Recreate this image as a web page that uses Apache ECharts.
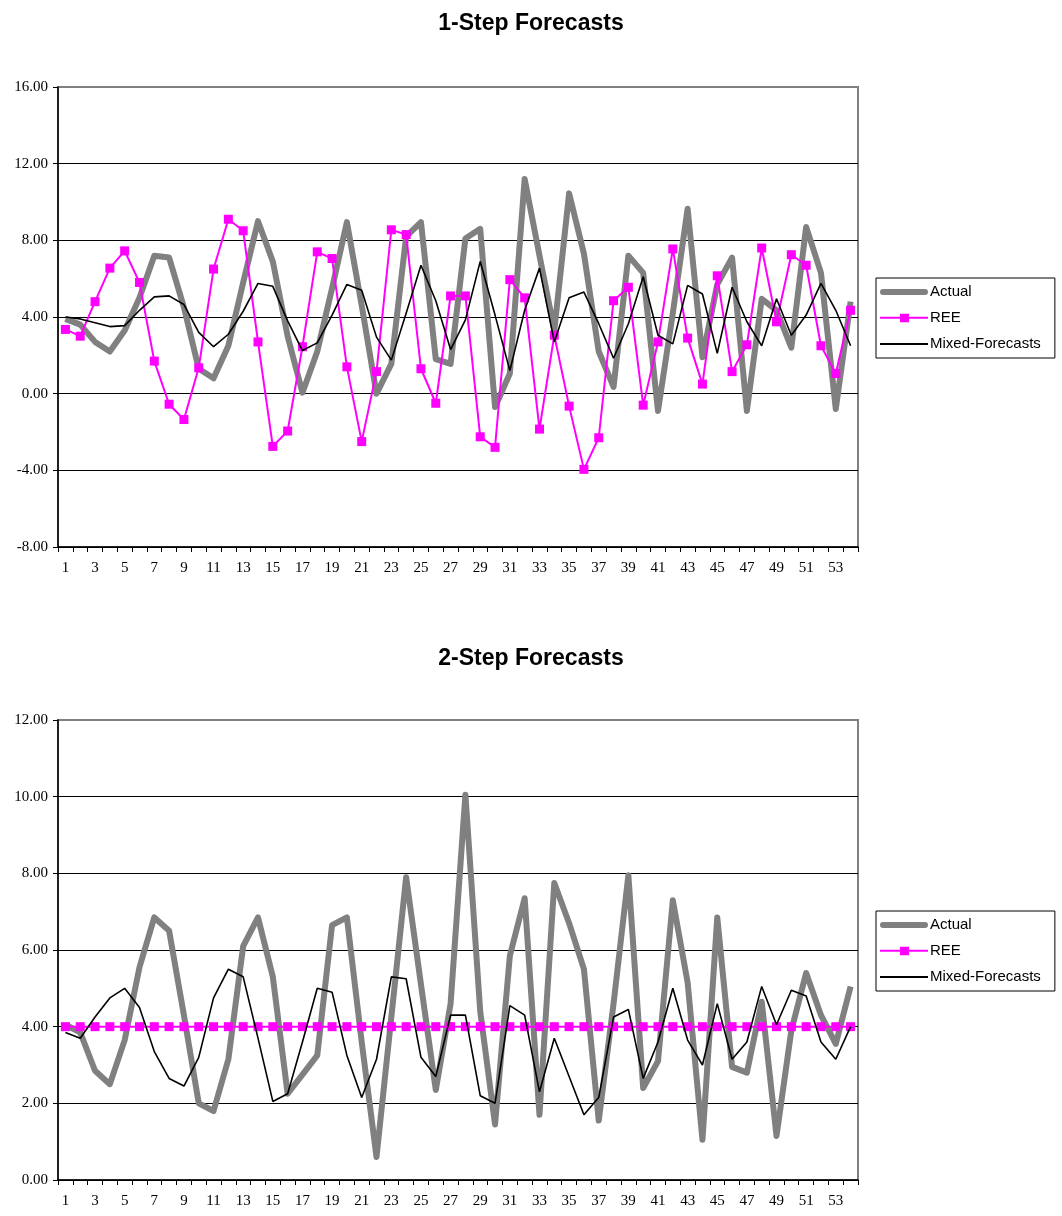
<!DOCTYPE html>
<html>
<head>
<meta charset="utf-8">
<script src="https://cdn.jsdelivr.net/npm/echarts@6/dist/echarts.min.js"></script>
<style>
html,body{margin:0;padding:0;background:#fff;}
#c{width:1062px;height:1216px;}
</style>
</head>
<body>
<div id="c"></div>
<script>
var categories = ['1','2','3','4','5','6','7','8','9','10','11','12','13','14','15','16','17','18','19','20','21','22','23','24','25','26','27','28','29','30','31','32','33','34','35','36','37','38','39','40','41','42','43','44','45','46','47','48','49','50','51','52','53','54'];

var actual1 = [3.9,3.6,2.7,2.2,3.3,5.0,7.2,7.1,4.5,1.3, 0.8,2.5,5.8,9.0,6.9,3.0,0.05,2.2,5.5,8.95, 4.6,0.0,1.55,8.2,8.95,1.8,1.55,8.1,8.6,-0.7, 1.05,11.2,7.2,3.3,10.45,7.3,2.2,0.35,7.2,6.3, -0.9,4.2,9.65,1.9,5.7,7.1,-0.9,4.95,4.35,2.4, 8.7,6.3,-0.8,4.8];
var ree1 = [3.35,3.0,4.8,6.55,7.45,5.8,1.7,-0.55,-1.35,1.35, 6.5,9.1,8.5,2.7,-2.75,-1.95,2.45,7.4,7.05,1.4, -2.5,1.15,8.55,8.3,1.3,-0.5,5.1,5.1,-2.25,-2.8, 5.95,5.0,-1.85,3.05,-0.65,-3.95,-2.3,4.85,5.55,-0.6, 2.7,7.55,2.9,0.5,6.15,1.15,2.55,7.6,3.75,7.25, 6.7,2.5,1.05,4.35];
var mixed1 = [4.0,3.9,3.7,3.5,3.55,4.35,5.05,5.1,4.65,3.2, 2.45,3.1,4.3,5.75,5.6,3.8,2.25,2.65,4.1,5.7, 5.4,2.95,1.75,4.2,6.7,4.85,2.3,3.85,6.9,4.1, 1.2,4.35,6.55,2.7,5.0,5.3,3.65,1.85,3.65,6.1, 3.05,2.6,5.65,5.2,2.1,5.55,3.75,2.5,4.95,3.05, 4.1,5.75,4.35,2.5];

var actual2 = [4.05,3.85,2.85,2.5,3.65,5.55,6.85,6.5,4.3,2.0, 1.8,3.15,6.1,6.85,5.3,2.25,2.75,3.25,6.65,6.85, 3.6,0.6,4.25,7.9,5.1,2.35,4.6,10.05,4.4,1.45, 5.85,7.35,1.7,7.75,6.7,5.5,1.55,4.6,7.95,2.4, 3.1,7.3,5.15,1.05,6.85,2.95,2.8,4.65,1.15,3.9, 5.4,4.3,3.55,5.05];
var ree2 = [4.0,4.0,4.0,4.0,4.0,4.0,4.0,4.0,4.0,4.0, 4.0,4.0,4.0,4.0,4.0,4.0,4.0,4.0,4.0,4.0, 4.0,4.0,4.0,4.0,4.0,4.0,4.0,4.0,4.0,4.0, 4.0,4.0,4.0,4.0,4.0,4.0,4.0,4.0,4.0,4.0, 4.0,4.0,4.0,4.0,4.0,4.0,4.0,4.0,4.0,4.0, 4.0,4.0,4.0,4.0];
var mixed2 = [3.85,3.7,4.25,4.75,5.0,4.5,3.35,2.65,2.45,3.2, 4.75,5.5,5.3,3.7,2.05,2.25,3.6,5.0,4.9,3.25, 2.15,3.15,5.3,5.25,3.2,2.7,4.3,4.3,2.2,2.0, 4.55,4.3,2.3,3.7,2.7,1.7,2.15,4.25,4.45,2.65, 3.6,5.0,3.65,3.0,4.6,3.15,3.6,5.05,4.05,4.95, 4.8,3.6,3.15,4.0];

var seriesNames = ['Actual','REE','Mixed-Forecasts'];
var titles = ['1-Step Forecasts','2-Step Forecasts'];

var chart = echarts.init(document.getElementById('c'), null, {renderer:'canvas'});

var serif = '"Liberation Serif","Times New Roman",serif';
var sans = '"Liberation Sans",Arial,sans-serif';

function xAxisCfg(gi){
  return {
    type:'category', gridIndex:gi, data:categories, boundaryGap:true,
    axisLine:{show:true, onZero:false, lineStyle:{color:'#000', width:1.5}},
    axisTick:{show:true, interval:0, length:5, lineStyle:{color:'#000', width:1}},
    axisLabel:{interval:1, margin:14, color:'#000', fontFamily:serif, fontSize:15},
    splitLine:{show:false}
  };
}
function yAxisCfg(gi, mn, mx, iv, nLines){
  var cols = [];
  for (var i=0;i<nLines-1;i++) cols.push('#000');
  cols.push('#808080');
  return {
    type:'value', gridIndex:gi, min:mn, max:mx, interval:iv,
    axisLine:{show:true, lineStyle:{color:'#000', width:1.5}},
    axisTick:{show:true, length:5, lineStyle:{color:'#000', width:1}},
    axisLabel:{margin:10, color:'#000', fontFamily:serif, fontSize:15,
      formatter:function(v){return v.toFixed(2);}},
    splitLine:{show:true, lineStyle:{color:cols, width:1}}
  };
}
var legendIcons = {
  'Actual':'path://M3,0 L45,0 A3,3 0 0 1 45,6 L3,6 A3,3 0 0 1 3,0 Z',
  'REE':'path://M0,3 L20,3 L20,0 L29,0 L29,3 L48,3 L48,5 L29,5 L29,8.5 L20,8.5 L20,5 L0,5 Z',
  'Mixed-Forecasts':'path://M0,0 L48,0 L48,2 L0,2 Z'
};
function legendCfg(top){
  return {
    data:seriesNames.map(function(n){return {name:n, icon:legendIcons[n]};}),
    orient:'vertical', left:876, top:top,
    itemWidth:48, itemHeight:14, itemGap:10,
    padding:[6,14,6,4],
    symbolKeepAspect:true,
    itemStyle:{borderWidth:0},
    borderColor:'#000', borderWidth:1, backgroundColor:'#fff',
    selectedMode:false,
    textStyle:{color:'#000', fontFamily:sans, fontSize:15, lineHeight:16, padding:[0,0,0,-3]}
  };
}
function seriesSet(gi, a, r, m){
  return [
    {name:'Actual', type:'line', xAxisIndex:gi, yAxisIndex:gi, data:a,
     symbol:'none', lineStyle:{color:'#808080', width:6, join:'round'}, itemStyle:{color:'#808080'},
     animation:false, z:2},
    {name:'REE', type:'line', xAxisIndex:gi, yAxisIndex:gi, data:r,
     symbol:'rect', symbolSize:9, showSymbol:true,
     lineStyle:{color:'#FF00FF', width:2}, itemStyle:{color:'#FF00FF'},
     animation:false, z:3},
    {name:'Mixed-Forecasts', type:'line', xAxisIndex:gi, yAxisIndex:gi, data:m,
     symbol:'none', lineStyle:{color:'#000', width:1.6}, itemStyle:{color:'#000'},
     animation:false, z:4}
  ];
}

var option = {
  backgroundColor:'#fff',
  animation:false,
  title:[
    {text:titles[0], left:'center', top:7, textStyle:{fontFamily:sans, fontSize:23, fontWeight:'bold', color:'#000'}},
    {text:titles[1], left:'center', top:642, textStyle:{fontFamily:sans, fontSize:23, fontWeight:'bold', color:'#000'}}
  ],
  legend:[legendCfg(278), legendCfg(911)],
  grid:[
    {left:58, top:87, width:800, height:460, show:true, borderColor:'#808080', borderWidth:2, backgroundColor:'#fff'},
    {left:58, top:720, width:800, height:460, show:true, borderColor:'#808080', borderWidth:2, backgroundColor:'#fff'}
  ],
  xAxis:[xAxisCfg(0), xAxisCfg(1)],
  yAxis:[yAxisCfg(0,-8,16,4,7), yAxisCfg(1,0,12,2,7)],
  series:seriesSet(0, actual1, ree1, mixed1).concat(seriesSet(1, actual2, ree2, mixed2))
};
chart.setOption(option);
</script>
</body>
</html>
